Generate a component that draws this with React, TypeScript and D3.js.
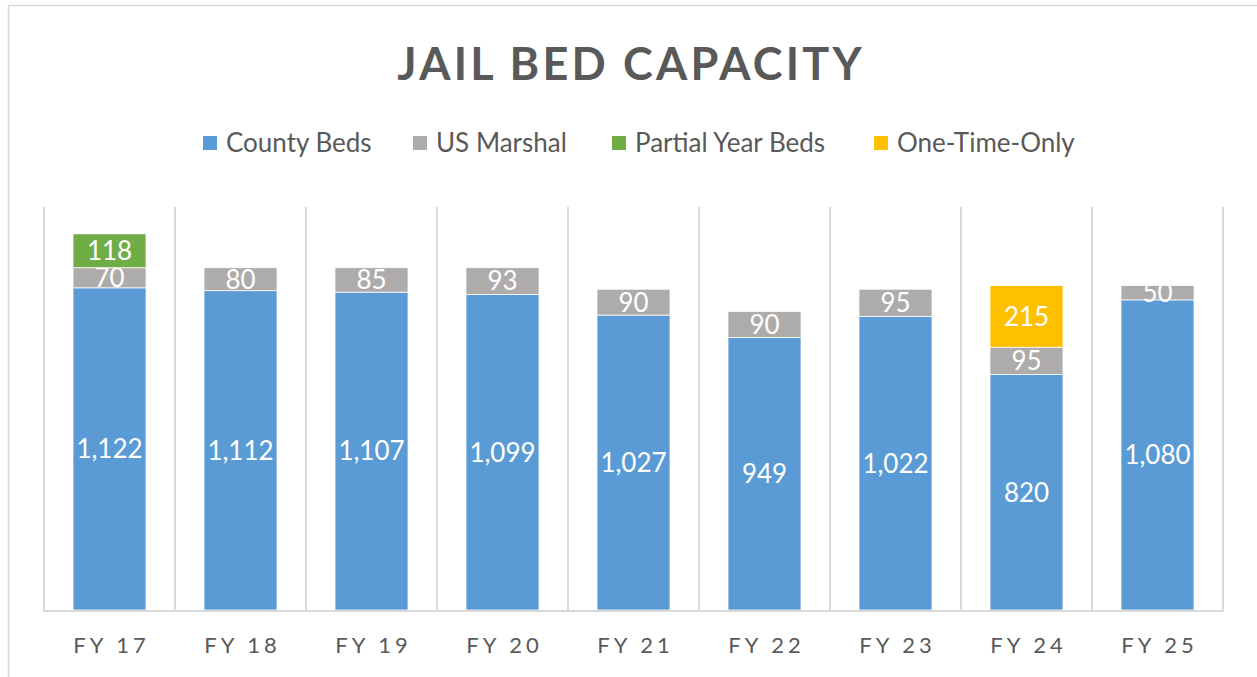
import React from 'react';
import * as d3 from 'd3';

const years = ['FY 17', 'FY 18', 'FY 19', 'FY 20', 'FY 21', 'FY 22', 'FY 23', 'FY 24', 'FY 25'];
const countyBeds = [1122, 1112, 1107, 1099, 1027, 949, 1022, 820, 1080];
const usMarshal = [70, 80, 85, 93, 90, 90, 95, 95, 50];
const partialYear = [118, 0, 0, 0, 0, 0, 0, 0, 0];
const oneTimeOnly = [0, 0, 0, 0, 0, 0, 0, 215, 0];

const seriesNames = ['County Beds', 'US Marshal', 'Partial Year Beds', 'One-Time-Only'];
const seriesColors = ['#5B9BD5', '#AEABAB', '#70AD47', '#FFC000'];

const W = 1257;
const H = 677;
const FONT = 'Lato, "Open Sans", sans-serif';
const TEXT = '#595959';

export default function App() {
    const rows = years.map((y, i) => ({
        year: y,
        county: countyBeds[i],
        marshal: usMarshal[i],
        partial: partialYear[i],
        once: oneTimeOnly[i],
    }));
    const keys = ['county', 'marshal', 'partial', 'once'];
    const stacked = d3.stack<any>().keys(keys)(rows);

    const x = d3.scaleBand().domain(years).range([44, 1223]).paddingInner(0).paddingOuter(0);
    const barW = 73;
    const y = d3.scaleLinear().domain([0, 1400]).range([610, 208]);

    // legend square positions
    const legendX = [203, 413, 612, 874];

    return (
        <div style={{ position: 'fixed', left: 0, top: 0 }}>
            <svg width={W} height={H} style={{ display: 'block', background: '#fff' }}>
                <rect x={8.5} y={5.5} width={W + 20} height={H + 20} fill="#fff" stroke="#D9D9D9" strokeWidth={1.5} />

                <text x={631} y={80} textAnchor="middle" fontFamily={FONT} fontWeight={700}
                    fontSize={45} letterSpacing={3.2} fill={TEXT}>JAIL BED CAPACITY</text>

                {seriesNames.map((name, i) => (
                    <g key={name}>
                        <rect x={legendX[i]} y={136} width={14} height={14} fill={seriesColors[i]} />
                        <text x={legendX[i] + 23} y={152} fontFamily={FONT} fontSize={26} fill={TEXT}>{name}</text>
                    </g>
                ))}

                {/* category separators */}
                {years.concat(['end']).map((yr, i) => {
                    const gx = 44 + i * x.bandwidth();
                    return <line key={'g' + i} x1={gx} x2={gx} y1={207} y2={611} stroke="#D9D9D9" strokeWidth={2} />;
                })}

                {stacked.map((layer, si) => (
                    <g key={layer.key}>
                        {layer.map((d, i) => {
                            const v = d[1] - d[0];
                            if (!v) return null;
                            const cx = (x(years[i]) as number) + x.bandwidth() / 2;
                            const y0 = y(d[0]);
                            const y1 = y(d[1]);
                            return (
                                <g key={i}>
                                    <rect x={cx - barW / 2} y={y1} width={barW} height={y0 - y1}
                                        fill={seriesColors[si]} stroke="#fff" strokeWidth={0.75} />
                                    <text x={cx} y={(y0 + y1) / 2} dy="0.36em" textAnchor="middle"
                                        fontFamily={FONT} fontSize={26} fill="#fff">{d3.format(',')(v)}</text>
                                </g>
                            );
                        })}
                    </g>
                ))}

                <line x1={43} x2={1224} y1={611} y2={611} stroke="#D9D9D9" strokeWidth={2} />

                {years.map((yr) => (
                    <text key={yr} x={(x(yr) as number) + x.bandwidth() / 2 + 2} y={653} textAnchor="middle"
                        fontFamily={FONT} fontSize={22} letterSpacing={4} fill={TEXT}>{yr}</text>
                ))}
            </svg>
        </div>
    );
}
